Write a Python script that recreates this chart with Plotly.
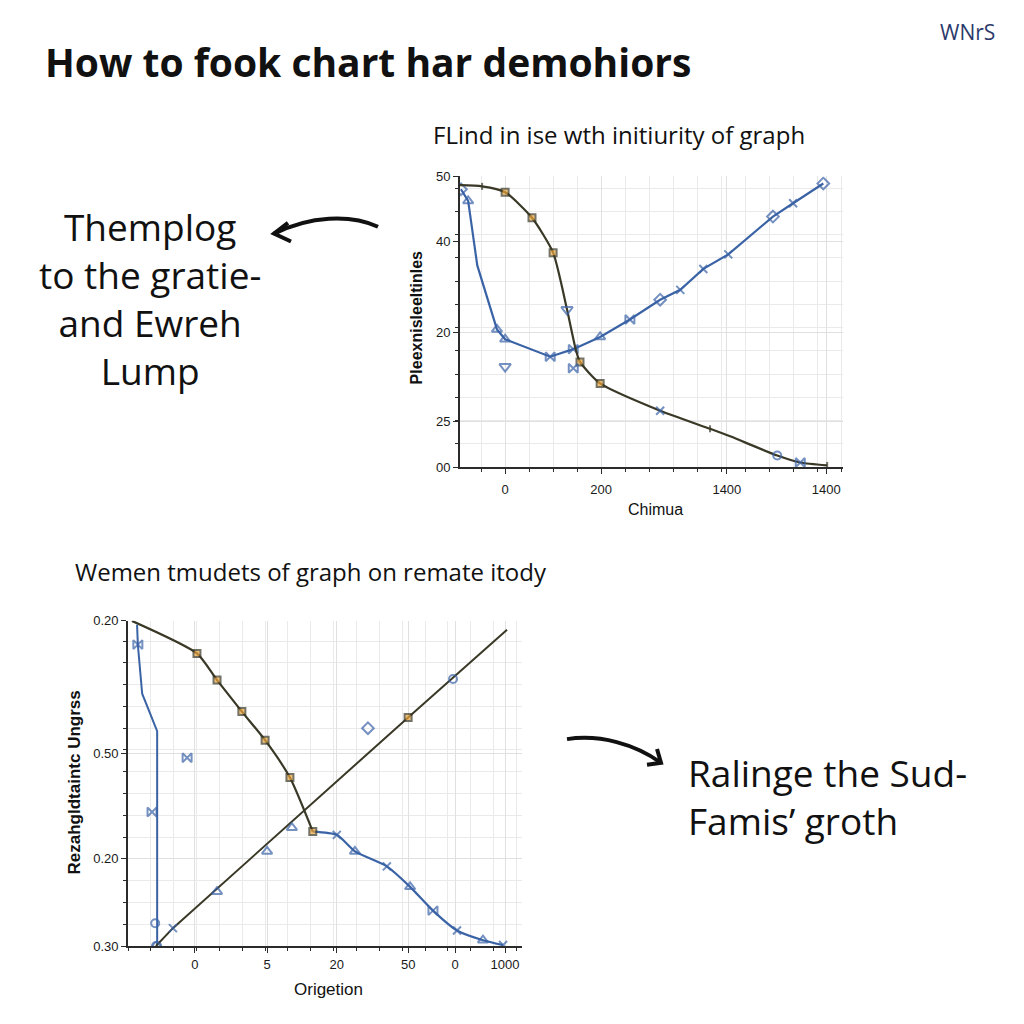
import plotly.graph_objects as go

# ---------------- data: top chart ----------------
top_x_tickvals = [0, 200, 462, 669]
top_x_ticktext = ["0", "200", "1400", "1400"]
top_y_tickvals = [50, 38.8, 23.2, 7.8, 0]
top_y_ticktext = ["50", "40", "20", "25", "00"]

a_x = [-94, -48, 0, 56, 100, 129, 147, 156, 198, 323, 427, 469, 567, 615, 671]
a_y = [48.5, 48.3, 47.3, 42.9, 36.9, 27.1, 20.3, 18.1, 14.4, 9.7, 6.6, 5.3, 2.0, 0.8, 0.3]
a_kind = ["none", "dark", "orange", "orange", "orange", "blue_tri", "none", "orange",
          "orange", "blue_x", "dark", "none", "blue_c", "blue_b", "dark"]

b_x = [-92, -77, -58, -17, 0, 94, 142, 198, 260, 323, 365, 413, 465, 558, 600, 663]
b_y = [47.8, 45.8, 34.7, 23.7, 22.0, 19.0, 20.3, 22.4, 25.4, 28.8, 30.5, 34.1, 36.6, 43.1, 45.4, 48.8]
b_kind = ["blue_d", "blue_t", "none", "blue_t", "blue_t", "blue_b", "blue_b", "blue_t",
          "blue_b", "blue_d", "blue_x", "blue_x", "blue_x", "blue_d", "blue_x", "blue_d"]

ts_x = [0, 142]
ts_y = [17.3, 17.0]
ts_kind = ["blue_tri", "blue_b"]

# ---------------- data: bottom chart ----------------
bot_x_tickvals = [17, 35.3, 53, 71.1, 83, 95.7]
bot_x_ticktext = ["0", "5", "20", "50", "0", "1000"]
bot_y_tickvals = [100, 59.1, 27, 0]
bot_y_ticktext = ["0.20", "0.50", "0.20", "0.30"]

c_x = [1.0, 17.5, 22.6, 28.9, 34.8, 41.1, 46.9]
c_y = [100, 90, 81.8, 72.1, 63.3, 51.8, 35.2]
c_kind = ["none", "orange", "orange", "orange", "orange", "orange", "orange"]

d_x = [46.9, 53.0, 57.6, 65.7, 71.6, 77.4, 83.5, 90.1, 95.2]
d_y = [35.2, 34.2, 29.1, 24.5, 18.2, 10.9, 4.8, 1.8, 0.3]
d_kind = ["none", "blue_x", "blue_t", "blue_x", "blue_t", "blue_b", "blue_x", "blue_t", "blue_x"]

r_x = [7.1, 11.4, 71.1, 96.2]
r_y = [0, 5.5, 70.3, 97.3]
r_kind = ["blue_c", "blue_x", "orange", "none"]

e_x = [2.3, 2.5, 3.6, 7.4, 7.4]
e_y = [98.8, 92.7, 77.6, 66.1, 0]
e_kind = ["none", "blue_b", "none", "none", "blue_c"]

bs_x = [6.9, 6.1, 15.0, 60.9, 22.6, 35.3, 41.6, 82.5]
bs_y = [7.0, 41.2, 57.9, 67.0, 16.7, 29.1, 36.4, 82.1]
bs_kind = ["blue_c", "blue_b", "blue_b", "blue_d", "blue_t", "blue_t", "blue_t", "blue_c"]

left_note = ["Themplog", "to the gratie-", "and Ewreh", "Lump"]
right_note = ["Ralinge the Sud-", "Famis\u2019 groth"]

# ---------------- styles ----------------
BLUE = "#3a63a6"
DARK = "#3a3826"
ORANGE = "#eba53a"
STYLE = {
    "none": dict(symbol="circle", color="rgba(0,0,0,0)", size=1, lc="rgba(0,0,0,0)"),
    "dark": dict(symbol="line-ns", color=DARK, size=5, lc=DARK),
    "orange": dict(symbol="square", color=ORANGE, size=7, lc=DARK),
    "blue_tri": dict(symbol="triangle-down-open", color=BLUE, size=10, lc=BLUE),
    "blue_t": dict(symbol="triangle-up-open", color=BLUE, size=9, lc=BLUE),
    "blue_x": dict(symbol="x-thin", color=BLUE, size=8, lc=BLUE),
    "blue_c": dict(symbol="circle-open", color=BLUE, size=8, lc=BLUE),
    "blue_b": dict(symbol="bowtie-open", color=BLUE, size=9, lc=BLUE),
    "blue_d": dict(symbol="diamond-open", color=BLUE, size=9, lc=BLUE),
}


def marker_for(kinds):
    return dict(
        symbol=[STYLE[k]["symbol"] for k in kinds],
        color=[STYLE[k]["color"] for k in kinds],
        size=[STYLE[k]["size"] for k in kinds],
        line=dict(color=[STYLE[k]["lc"] for k in kinds], width=2),
    )


fig = go.Figure()

# top chart
fig.add_trace(go.Scatter(x=b_x, y=b_y, mode="lines+markers", xaxis="x", yaxis="y",
                         line=dict(color=BLUE, width=2.2), marker=marker_for(b_kind)))
fig.add_trace(go.Scatter(x=a_x, y=a_y, mode="lines+markers", xaxis="x", yaxis="y",
                         line=dict(color=DARK, width=2.2, shape="spline", smoothing=0.6),
                         marker=marker_for(a_kind)))
fig.add_trace(go.Scatter(x=ts_x, y=ts_y, mode="markers", xaxis="x", yaxis="y",
                         marker=marker_for(ts_kind)))

# bottom chart
fig.add_trace(go.Scatter(x=e_x, y=e_y, mode="lines+markers", xaxis="x2", yaxis="y2",
                         line=dict(color=BLUE, width=2), marker=marker_for(e_kind)))
fig.add_trace(go.Scatter(x=r_x, y=r_y, mode="lines+markers", xaxis="x2", yaxis="y2",
                         line=dict(color=DARK, width=2), marker=marker_for(r_kind)))
fig.add_trace(go.Scatter(x=d_x, y=d_y, mode="lines+markers", xaxis="x2", yaxis="y2",
                         line=dict(color=BLUE, width=2.2, shape="spline", smoothing=0.6),
                         marker=marker_for(d_kind)))
fig.add_trace(go.Scatter(x=c_x, y=c_y, mode="lines+markers", xaxis="x2", yaxis="y2",
                         line=dict(color=DARK, width=2.2, shape="spline", smoothing=0.6),
                         marker=marker_for(c_kind)))
fig.add_trace(go.Scatter(x=bs_x, y=bs_y, mode="markers", xaxis="x2", yaxis="y2",
                         marker=marker_for(bs_kind)))

W = 1024.0


def px(x):
    return x / W


def py(y):
    return 1 - y / W


AXFONT = "Liberation Sans, Arial, sans-serif"
TICKFONT = dict(family=AXFONT, size=13, color="#1a1a1a")
GRID = "#e0e0e0"
MINOR_GRID = "#eaeaea"
AXLINE = "#2b2b2b"

common = dict(showline=True, linecolor=AXLINE, linewidth=1.8, ticks="outside", ticklen=5,
              tickcolor=AXLINE, zeroline=False, showgrid=True, gridcolor=GRID,
              tickfont=TICKFONT, tickmode="array", fixedrange=True)

fig.update_layout(
    width=1024, height=1024,
    margin=dict(l=0, r=0, t=0, b=0),
    paper_bgcolor="white", plot_bgcolor="white",
    showlegend=False,
    xaxis=dict(domain=[px(460), px(843)], range=[-94, 704], anchor="y",
               tickvals=top_x_tickvals, ticktext=top_x_ticktext, ticklabelstandoff=4,
               minor=dict(tickmode="linear", tick0=0, dtick=50, showgrid=True,
                          gridcolor=MINOR_GRID, ticks="outside", ticklen=3, tickcolor=AXLINE),
               **common),
    yaxis=dict(domain=[py(467), py(172)], range=[0, 50], anchor="x",
               tickvals=top_y_tickvals, ticktext=top_y_ticktext,
               minor=dict(tickmode="linear", tick0=0, dtick=4, showgrid=True,
                          gridcolor=MINOR_GRID, ticks="outside", ticklen=3, tickcolor=AXLINE),
               **common),
    xaxis2=dict(domain=[px(128), px(522)], range=[0, 100], anchor="y2",
                tickvals=bot_x_tickvals, ticktext=bot_x_ticktext,
                minor=dict(tickmode="linear", tick0=0, dtick=5.8, showgrid=True,
                           gridcolor=MINOR_GRID, ticks="outside", ticklen=3, tickcolor=AXLINE),
                **common),
    yaxis2=dict(domain=[py(953), py(623)], range=[0, 100], anchor="x2",
                tickvals=bot_y_tickvals, ticktext=bot_y_ticktext,
                minor=dict(tickmode="linear", tick0=0, dtick=6.7, showgrid=True,
                           gridcolor=MINOR_GRID, ticks="outside", ticklen=3, tickcolor=AXLINE),
                **common),
)

FONT = "Open Sans, DejaVu Sans, sans-serif"
ann = []


def text(x, y, s, size, color="#111", xanchor="left", bold=False, angle=0, family=FONT,
         align="left"):
    if bold:
        s = "<b>" + s + "</b>"
    ann.append(dict(x=px(x), y=py(y), xref="paper", yref="paper", text=s, showarrow=False,
                    xanchor=xanchor, yanchor="middle", textangle=angle, align=align,
                    font=dict(family=family, size=size, color=color)))


text(43, 55, "How to fook chart har demohiors", 39, bold=True)
text(938, 25, "WNrS", 21, color="#2b3a6b")
text(431, 129, "FLind in ise wth initiurity of graph", 24)
text(73, 573, "Wemen tmudets of graph on remate itody", 24)

text(150, 296, "<br>".join(left_note), 37, xanchor="center", align="center")
text(686, 801, "<br>".join(right_note), 37, align="left")

text(655, 510, "Chimua", 16, xanchor="center", family=AXFONT)
text(416, 315, "Pleexnisleeltinles", 16, bold=True, angle=-90, xanchor="center",
     family=AXFONT)
text(328, 997, "Origetion", 17, xanchor="center", family=AXFONT)
text(74, 787, "Rezahgldtaintc Ungrss", 17, bold=True, angle=-90, xanchor="center",
     family=AXFONT)

fig.update_layout(annotations=ann)


def P(x, y):
    return f"{px(x):.5f},{py(y):.5f}"


ARROW = dict(color="#111", width=4)
shapes = [
    # top arrow (points left)
    dict(type="path", xref="paper", yref="paper",
         path=f"M {P(378,223)} C {P(350,210)} {P(310,212)} {P(274,230)}", line=ARROW),
    dict(type="path", xref="paper", yref="paper",
         path=f"M {P(288,219)} L {P(274,230)} L {P(291,238)}", line=ARROW),
    # bottom arrow (points right)
    dict(type="path", xref="paper", yref="paper",
         path=f"M {P(567,743)} C {P(600,738)} {P(635,748)} {P(661,767)}", line=ARROW),
    dict(type="path", xref="paper", yref="paper",
         path=f"M {P(657,753)} L {P(661,767)} L {P(647,769)}", line=ARROW),
]
fig.update_layout(shapes=shapes)

fig.write_html("out.html")
